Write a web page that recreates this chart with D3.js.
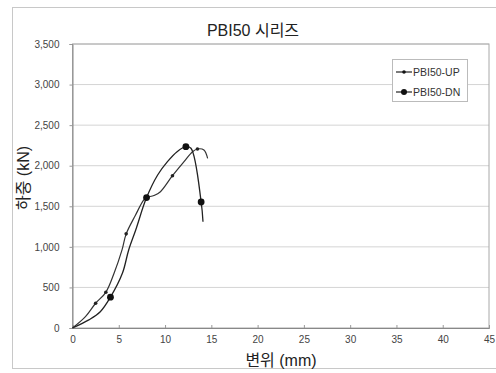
<!DOCTYPE html>
<html>
<head>
<meta charset="utf-8">
<script src="https://cdn.jsdelivr.net/npm/d3@7"></script>
<style>
  body { margin: 0; background: #fff; }
  svg { font-family: "Liberation Sans", Arial, "Noto Sans CJK KR", sans-serif; }
</style>
</head>
<body>
<svg width="496" height="373"></svg>
<script>
// values (displacement mm, load kN)
const upX = [0, 1.4, 2.5, 3.6, 4.5, 5.35, 5.8, 6.8, 7.7, 8.0, 8.8, 9.5, 10.8, 12.05, 12.97, 13.5, 14.2, 14.6];
const upY = [0, 140, 305, 440, 677, 962, 1160, 1390, 1578, 1607, 1633, 1680, 1877, 2050, 2173, 2206, 2194, 2090];
const upMarked = [2, 3, 6, 12, 15];

const dnX = [0, 1.76, 3.0, 4.1, 5.4, 6.07, 6.83, 8.0, 9.2, 10.26, 11.3, 12.25, 12.8, 13.9, 14.1];
const dnY = [0, 100, 200, 380, 677, 962, 1208, 1607, 1886, 2050, 2173, 2235, 2215, 1553, 1310];
const dnMarked = [3, 7, 11, 13];

const xTicks = [0, 5, 10, 15, 20, 25, 30, 35, 40, 45];
const yTicks = [0, 500, 1000, 1500, 2000, 2500, 3000, 3500];
const seriesNames = ['PBI50-UP', 'PBI50-DN'];

const svg = d3.select('svg');

// outer chart frame
svg.append('rect')
    .attr('x', 12.5).attr('y', 7.5)
    .attr('width', 500).attr('height', 361)
    .attr('fill', 'none').attr('stroke', '#c8c8c8');

const x = d3.scaleLinear().domain([0, 45]).range([72.5, 489]);
const y = d3.scaleLinear().domain([0, 3500]).range([328, 44]);

// gridlines
svg.append('g')
    .selectAll('line')
    .data(yTicks.slice(1))
    .enter()
    .append('line')
    .attr('x1', x(0)).attr('x2', x(45))
    .attr('y1', d => y(d)).attr('y2', d => y(d))
    .attr('stroke', '#d4d4d4').attr('stroke-width', 1);

// plot frame
svg.append('rect')
    .attr('x', x(0)).attr('y', y(3500))
    .attr('width', x(45) - x(0)).attr('height', y(0) - y(3500))
    .attr('fill', 'none').attr('stroke', '#a8a8a8');

// axes
const xAxis = svg.append('g')
    .attr('transform', `translate(0, ${y(0)})`)
    .call(d3.axisBottom(x).tickValues(xTicks).tickSize(-3).tickPadding(8).tickFormat(d3.format('d')));
const yAxis = svg.append('g')
    .attr('transform', `translate(${x(0)}, 0)`)
    .call(d3.axisLeft(y).tickValues(yTicks).tickSize(3).tickPadding(10).tickFormat(d3.format(',')));

for (let ax of [xAxis, yAxis]) {
    ax.select('.domain').attr('stroke', '#888');
    ax.selectAll('.tick line').attr('stroke', '#999');
    ax.selectAll('.tick text').attr('fill', '#444').attr('font-size', 10);
}

// titles
svg.append('text')
    .attr('x', 253).attr('y', 36)
    .attr('text-anchor', 'middle')
    .attr('font-size', 16).attr('fill', '#222')
    .text('PBI50 시리즈');

svg.append('text')
    .attr('x', 281).attr('y', 366)
    .attr('text-anchor', 'middle')
    .attr('font-size', 16).attr('fill', '#222')
    .text('변위 (mm)');

svg.append('text')
    .attr('transform', 'translate(29, 178) rotate(-90)')
    .attr('text-anchor', 'middle')
    .attr('font-size', 16).attr('fill', '#222')
    .text('하중 (kN)');

// series
const line = d3.line()
    .x(d => x(d[0]))
    .y(d => y(d[1]))
    .curve(d3.curveCatmullRom.alpha(0.5));

const upPts = upX.map((v, i) => [v, upY[i]]);
const dnPts = dnX.map((v, i) => [v, dnY[i]]);

svg.append('path')
    .datum(upPts)
    .attr('d', line)
    .attr('fill', 'none').attr('stroke', '#333').attr('stroke-width', 1.2);

svg.append('path')
    .datum(dnPts)
    .attr('d', line)
    .attr('fill', 'none').attr('stroke', '#222').attr('stroke-width', 1.3);

svg.append('g')
    .selectAll('circle')
    .data(upMarked.map(i => upPts[i]))
    .enter()
    .append('circle')
    .attr('cx', d => x(d[0])).attr('cy', d => y(d[1]))
    .attr('r', 1.8).attr('fill', '#222');

svg.append('g')
    .selectAll('circle')
    .data(dnMarked.map(i => dnPts[i]))
    .enter()
    .append('circle')
    .attr('cx', d => x(d[0])).attr('cy', d => y(d[1]))
    .attr('r', 3.4).attr('fill', '#111');

// legend
const legend = svg.append('g').attr('transform', 'translate(392, 59)');
legend.append('rect')
    .attr('x', 0.5).attr('y', 0.5).attr('width', 75).attr('height', 42)
    .attr('fill', '#fff').attr('stroke', '#bbb');

const entries = legend.selectAll('.entry')
    .data(seriesNames)
    .enter()
    .append('g')
    .attr('transform', (d, i) => `translate(0, ${13 + i * 20})`);
entries.append('line')
    .attr('x1', 4).attr('x2', 20).attr('y1', 0).attr('y2', 0)
    .attr('stroke', '#222').attr('stroke-width', 1.2);
entries.append('circle')
    .attr('cx', 12).attr('cy', 0)
    .attr('r', (d, i) => i === 0 ? 1.8 : 3)
    .attr('fill', '#111');
entries.append('text')
    .attr('x', 21).attr('y', 4)
    .attr('font-size', 10.5).attr('fill', '#333')
    .text(d => d);
</script>
</body>
</html>
